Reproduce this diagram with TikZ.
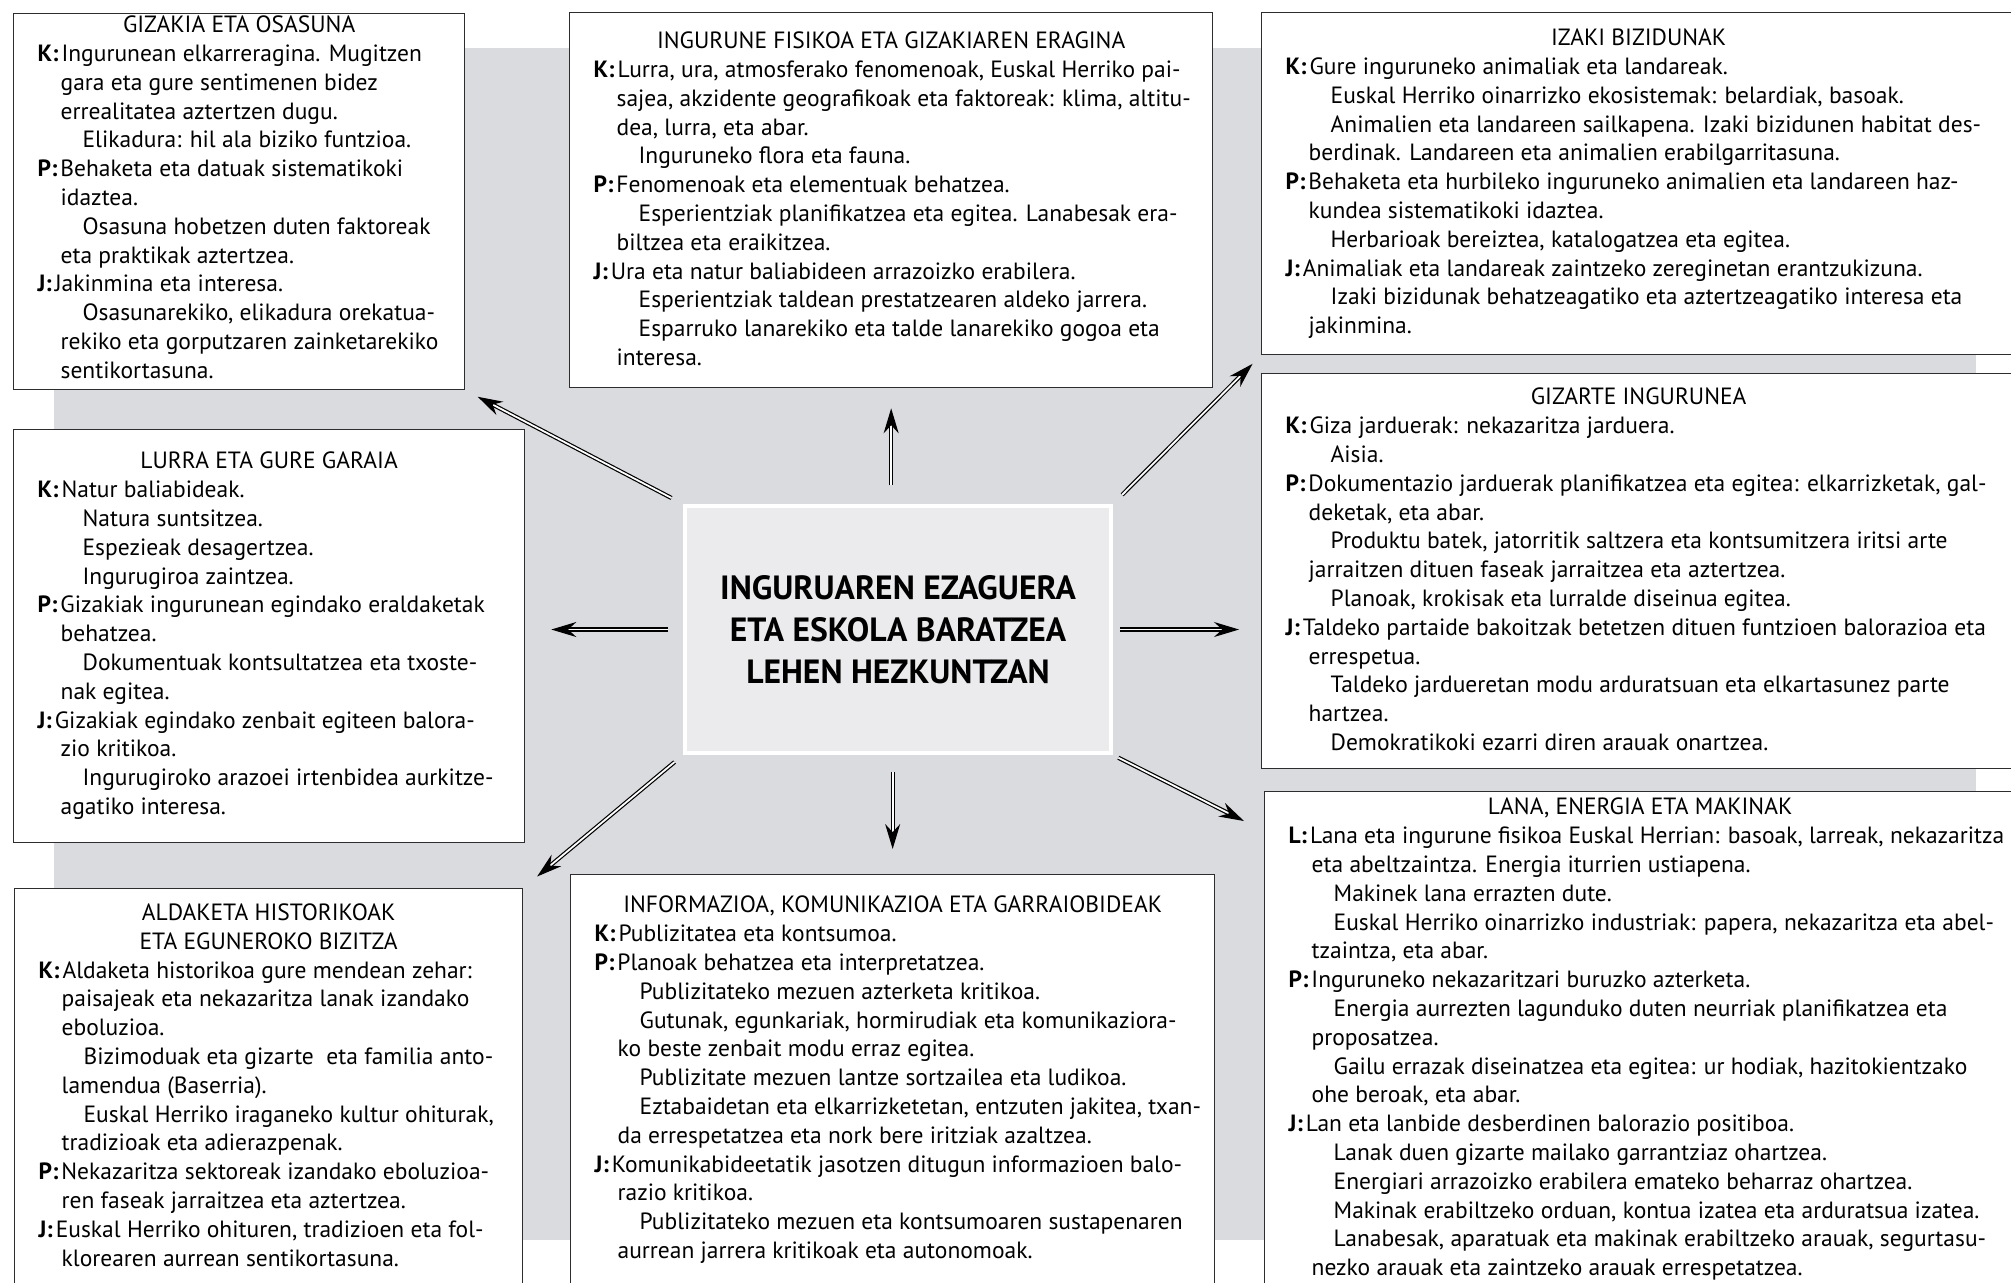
\documentclass[tikz,border=0pt]{standalone}
\usepackage{fontspec}
\setmainfont{PT Sans}
\usetikzlibrary{arrows.meta,calc}
\definecolor{bggrey}{RGB}{218,219,222}
\definecolor{hubgrey}{RGB}{235,235,237}
\definecolor{rulegrey}{RGB}{45,45,45}
\def\lh{14.4pt}
% line kinds inside a panel: title, labelled line, continuation, new item
\def\ttl#1{\par\noindent\hbox to\hsize{\hss#1\hss}}
\def\lbl#1#2{\par\noindent\hbox{\hspace*{12pt}\textbf{#1:}\kern1.5pt #2}}
\def\cnt#1{\par\noindent\hbox{\hspace*{23.5pt}#1}}
\def\prg#1{\par\noindent\hbox{\hspace*{34.5pt}#1}}
\def\panel#1#2#3#4{\parbox[c][#2][t]{#1}{\fontsize{11.75}{\lh}\selectfont\parskip=0pt\vspace*{#3}#4}}

\begin{document}
\begin{tikzpicture}[x=0.5pt,y=-0.5pt]
    \tikzstyle{panel}=[draw=rulegrey, line width=0.65pt, fill=white, inner sep=0pt, anchor=north west]
    \tikzstyle{hub}=[fill=hubgrey, draw=white, line width=2pt, minimum width=213pt, minimum height=123.5pt,
        inner sep=0pt, align=center, font=\fontsize{16.8}{21}\selectfont\bfseries]
    \tikzstyle{link}=[draw=black, line width=0.6pt, double=white, double distance=0.9pt,
        -{Stealth[length=12.5pt,width=7.5pt]}]

    \useasboundingbox (0,0) rectangle (2011,1282);
    \clip (0,0) rectangle (2011,1282);

    % Grey backdrop
    \fill[bggrey] (54,48) rectangle (1976,1240);

    % Draw the central node
    \node[hub] (c) at (898,629.5) {INGURUAREN EZAGUERA\\ETA ESKOLA BARATZEA\\LEHEN HEZKUNTZAN};

    % Draw the panels, clockwise from top left
    \node[panel] (gizakia) at (13,13) {\panel{225.5pt}{188pt}{1.2pt}{%
        \ttl{GIZAKIA ETA OSASUNA}
        \lbl{K}{Ingurunean elkarreragina. Mugitzen}
        \cnt{gara eta gure sentimenen bidez}
        \cnt{errealitatea aztertzen dugu.}
        \prg{Elikadura: hil ala biziko funtzioa.}
        \lbl{P}{Behaketa eta datuak sistematikoki}
        \cnt{idaztea.}
        \prg{Osasuna hobetzen duten faktoreak}
        \cnt{eta praktikak aztertzea.}
        \lbl{J}{Jakinmina eta interesa.}
        \prg{Osasunarekiko, elikadura orekatua-}
        \cnt{rekiko eta gorputzaren zainketarekiko}
        \cnt{sentikortasuna.}}};

    \node[panel] (ingurune) at (569,12) {\panel{321.5pt}{187.5pt}{9.7pt}{%
        \ttl{INGURUNE FISIKOA ETA GIZAKIAREN ERAGINA}
        \lbl{K}{Lurra, ura, atmosferako fenomenoak, Euskal Herriko pai-}
        \cnt{sajea, akzidente geografikoak eta faktoreak: klima, altitu-}
        \cnt{dea, lurra, eta abar.}
        \prg{Inguruneko flora eta fauna.}
        \lbl{P}{Fenomenoak eta elementuak behatzea.}
        \prg{Esperientziak planifikatzea eta egitea. Lanabesak era-}
        \cnt{biltzea eta eraikitzea.}
        \lbl{J}{Ura eta natur baliabideen arrazoizko erabilera.}
        \prg{Esperientziak taldean prestatzearen aldeko jarrera.}
        \prg{Esparruko lanarekiko eta talde lanarekiko gogoa eta}
        \cnt{interesa.}}};

    \node[panel] (izaki) at (1261,12) {\panel{377pt}{171pt}{8.2pt}{%
        \ttl{IZAKI BIZIDUNAK}
        \lbl{K}{Gure inguruneko animaliak eta landareak.}
        \prg{Euskal Herriko oinarrizko ekosistemak: belardiak, basoak.}
        \prg{Animalien eta landareen sailkapena. Izaki bizidunen habitat des-}
        \cnt{berdinak. Landareen eta animalien erabilgarritasuna.}
        \lbl{P}{Behaketa eta hurbileko inguruneko animalien eta landareen haz-}
        \cnt{kundea sistematikoki idaztea.}
        \prg{Herbarioak bereiztea, katalogatzea eta egitea.}
        \lbl{J}{Animaliak eta landareak zaintzeko zereginetan erantzukizuna.}
        \prg{Izaki bizidunak behatzeagatiko eta aztertzeagatiko interesa eta}
        \cnt{jakinmina.}}};

    \node[panel] (gizarte) at (1261,373) {\panel{377pt}{197.5pt}{7.2pt}{%
        \ttl{GIZARTE INGURUNEA}
        \lbl{K}{Giza jarduerak: nekazaritza jarduera.}
        \prg{Aisia.}
        \lbl{P}{Dokumentazio jarduerak planifikatzea eta egitea: elkarrizketak, gal-}
        \cnt{deketak, eta abar.}
        \prg{Produktu batek, jatorritik saltzera eta kontsumitzera iritsi arte}
        \cnt{jarraitzen dituen faseak jarraitzea eta aztertzea.}
        \prg{Planoak, krokisak eta lurralde diseinua egitea.}
        \lbl{J}{Taldeko partaide bakoitzak betetzen dituen funtzioen balorazioa eta}
        \cnt{errespetua.}
        \prg{Taldeko jardueretan modu arduratsuan eta elkartasunez parte}
        \cnt{hartzea.}
        \prg{Demokratikoki ezarri diren arauak onartzea.}}};

    \node[panel] (lana) at (1264,791) {\panel{375.5pt}{254.5pt}{3.2pt}{%
        \ttl{LANA, ENERGIA ETA MAKINAK}
        \lbl{L}{Lana eta ingurune fisikoa Euskal Herrian: basoak, larreak, nekazaritza}
        \cnt{eta abeltzaintza. Energia iturrien ustiapena.}
        \prg{Makinek lana errazten dute.}
        \prg{Euskal Herriko oinarrizko industriak: papera, nekazaritza eta abel-}
        \cnt{tzaintza, eta abar.}
        \lbl{P}{Inguruneko nekazaritzari buruzko azterketa.}
        \prg{Energia aurrezten lagunduko duten neurriak planifikatzea eta}
        \cnt{proposatzea.}
        \prg{Gailu errazak diseinatzea eta egitea: ur hodiak, hazitokientzako}
        \cnt{ohe beroak, eta abar.}
        \lbl{J}{Lan eta lanbide desberdinen balorazio positiboa.}
        \prg{Lanak duen gizarte mailako garrantziaz ohartzea.}
        \prg{Energiari arrazoizko erabilera emateko beharraz ohartzea.}
        \prg{Makinak erabiltzeko orduan, kontua izatea eta arduratsua izatea.}
        \prg{Lanabesak, aparatuak eta makinak erabiltzeko arauak, segurtasu-}
        \cnt{nezko arauak eta zaintzeko arauak errespetatzea.}}};

    \node[panel] (informazioa) at (570,874) {\panel{322pt}{213pt}{10.7pt}{%
        \ttl{INFORMAZIOA, KOMUNIKAZIOA ETA GARRAIOBIDEAK}
        \lbl{K}{Publizitatea eta kontsumoa.}
        \lbl{P}{Planoak behatzea eta interpretatzea.}
        \prg{Publizitateko mezuen azterketa kritikoa.}
        \prg{Gutunak, egunkariak, hormirudiak eta komunikaziora-}
        \cnt{ko beste zenbait modu erraz egitea.}
        \prg{Publizitate mezuen lantze sortzailea eta ludikoa.}
        \prg{Eztabaidetan eta elkarrizketetan, entzuten jakitea, txan-}
        \cnt{da errespetatzea eta nork bere iritziak azaltzea.}
        \lbl{J}{Komunikabideetatik jasotzen ditugun informazioen balo-}
        \cnt{razio kritikoa.}
        \prg{Publizitateko mezuen eta kontsumoaren sustapenaren}
        \cnt{aurrean jarrera kritikoak eta autonomoak.}}};

    \node[panel] (aldaketa) at (14,888) {\panel{254pt}{206pt}{7.5pt}{%
        \ttl{ALDAKETA HISTORIKOAK}
        \ttl{ETA EGUNEROKO BIZITZA}
        \lbl{K}{Aldaketa historikoa gure mendean zehar:}
        \cnt{paisajeak eta nekazaritza lanak izandako}
        \cnt{eboluzioa.}
        \prg{Bizimoduak eta gizarte\ \ eta familia anto-}
        \cnt{lamendua (Baserria).}
        \prg{Euskal Herriko iraganeko kultur ohiturak,}
        \cnt{tradizioak eta adierazpenak.}
        \lbl{P}{Nekazaritza sektoreak izandako eboluzioa-}
        \cnt{ren faseak jarraitzea eta aztertzea.}
        \lbl{J}{Euskal Herriko ohituren, tradizioen eta fol-}
        \cnt{klorearen aurrean sentikortasuna.}}};

    \node[panel] (lurra) at (13,429) {\panel{255.5pt}{206.5pt}{11.2pt}{%
        \ttl{LURRA ETA GURE GARAIA}
        \lbl{K}{Natur baliabideak.}
        \prg{Natura suntsitzea.}
        \prg{Espezieak desagertzea.}
        \prg{Ingurugiroa zaintzea.}
        \lbl{P}{Gizakiak ingurunean egindako eraldaketak}
        \cnt{behatzea.}
        \prg{Dokumentuak kontsultatzea eta txoste-}
        \cnt{nak egitea.}
        \lbl{J}{Gizakiak egindako zenbait egiteen balora-}
        \cnt{zio kritikoa.}
        \prg{Ingurugiroko arazoei irtenbidea aurkitze-}
        \cnt{agatiko interesa.}}};

    % Free end of the arrow towards the lower right panel
    \coordinate (lanaport) at ($(lana.north west)+(-20,30)$);

    % Connect the central node with every panel
    \foreach \from/\to/\s/\e in {c.north west/gizakia.south east/6.5/7,
            c.north -| ingurune.south/ingurune.south/9.5/10,
            c.north east/izaki.south west/6.5/6,
            c.west/c.west -| lurra.east/7.5/13,
            c.east/c.east -| gizarte.west/3.5/11,
            c.south west/aldaketa.north east/5.5/9,
            c.south -| informazioa.north/informazioa.north/8.5/12.5,
            c.south east/lanaport/3/0}
        \draw[link, shorten <=\s pt, shorten >=\e pt] (\from) -- (\to);
\end{tikzpicture}
\end{document}
